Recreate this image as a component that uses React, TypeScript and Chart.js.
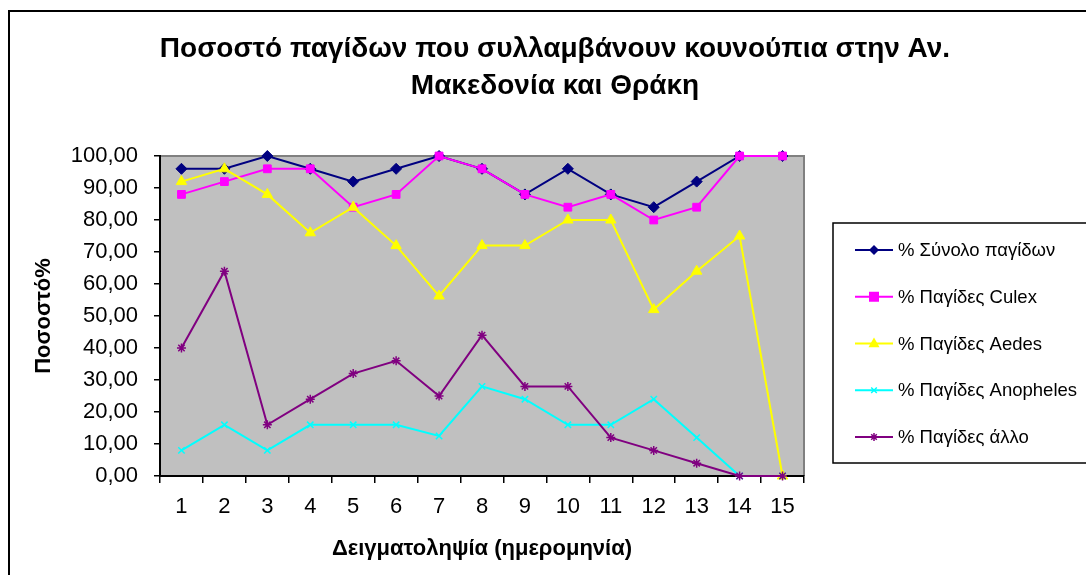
import React, { useEffect, useRef } from "react";
import { Chart, registerables } from "chart.js";

Chart.register(...registerables);

const categories = ["1", "2", "3", "4", "5", "6", "7", "8", "9", "10", "11", "12", "13", "14", "15"];
const totalTraps = [96, 96, 100, 96, 92, 96, 100, 96, 88, 96, 88, 84, 92, 100, 100];
const culexTraps = [88, 92, 96, 96, 84, 88, 100, 96, 88, 84, 88, 80, 84, 100, 100];
const aedesTraps = [92, 96, 88, 76, 84, 72, 56.25, 72, 72, 80, 80, 52, 64, 75, 0];
const anophelesTraps = [8, 16, 8, 16, 16, 16, 12.5, 28, 24, 16, 16, 24, 12, 0, 0];
const otherTraps = [40, 64, 16, 24, 32, 36, 25, 44, 28, 28, 12, 8, 4, 0, 0];

const seriesLabels = [
  "% Σύνολο παγίδων",
  "% Παγίδες Culex",
  "% Παγίδες Aedes",
  "% Παγίδες Anopheles",
  "% Παγίδες άλλο",
];
const seriesColors = ["#000080", "#FF00FF", "#FFFF00", "#00FFFF", "#800080"];
const titleLines = [
  "Ποσοστό παγίδων που συλλαμβάνουν κουνούπια στην Αν.",
  "Μακεδονία και Θράκη",
];
const xTitle = "Δειγματοληψία (ημερομηνία)";
const yTitle = "Ποσοστό%";

const FONT = '"Liberation Sans", Arial, sans-serif';

function drawMarker(ctx: CanvasRenderingContext2D, style: string, x: number, y: number, r: number, color: string) {
  ctx.save();
  ctx.fillStyle = color;
  ctx.strokeStyle = color;
  ctx.lineWidth = 1.5;
  ctx.beginPath();
  if (style === "rectRot") {
    ctx.moveTo(x, y - r);
    ctx.lineTo(x + r, y);
    ctx.lineTo(x, y + r);
    ctx.lineTo(x - r, y);
    ctx.closePath();
    ctx.fill();
  } else if (style === "rect") {
    ctx.rect(x - r, y - r, 2 * r, 2 * r);
    ctx.fill();
  } else if (style === "triangle") {
    ctx.moveTo(x, y - r * 1.1);
    ctx.lineTo(x + r, y + r * 0.7);
    ctx.lineTo(x - r, y + r * 0.7);
    ctx.closePath();
    ctx.fill();
  } else if (style === "crossRot") {
    ctx.moveTo(x - r * 0.7, y - r * 0.7);
    ctx.lineTo(x + r * 0.7, y + r * 0.7);
    ctx.moveTo(x + r * 0.7, y - r * 0.7);
    ctx.lineTo(x - r * 0.7, y + r * 0.7);
    ctx.stroke();
  } else {
    ctx.moveTo(x - r * 0.7, y - r * 0.7);
    ctx.lineTo(x + r * 0.7, y + r * 0.7);
    ctx.moveTo(x + r * 0.7, y - r * 0.7);
    ctx.lineTo(x - r * 0.7, y + r * 0.7);
    ctx.moveTo(x, y - r);
    ctx.lineTo(x, y + r);
    ctx.stroke();
  }
  ctx.restore();
}

const decor = {
  id: "decor",
  beforeDraw(chart: any) {
    const { ctx, chartArea: a, width, height } = chart;
    ctx.save();
    ctx.fillStyle = "#FFFFFF";
    ctx.fillRect(0, 0, width, height);
    ctx.fillStyle = "#C0C0C0";
    ctx.fillRect(a.left, a.top, a.right - a.left, a.bottom - a.top);
    ctx.strokeStyle = "#808080";
    ctx.lineWidth = 2;
    ctx.beginPath();
    ctx.moveTo(a.left, a.top);
    ctx.lineTo(a.right, a.top);
    ctx.lineTo(a.right, a.bottom);
    ctx.stroke();
    ctx.restore();
  },
  afterDraw(chart: any) {
    const { ctx, chartArea: a } = chart;
    ctx.save();
    // outer frame
    ctx.strokeStyle = "#000000";
    ctx.lineWidth = 2;
    ctx.strokeRect(9, 11, 1200, 700);

    // title
    ctx.fillStyle = "#000000";
    ctx.textAlign = "center";
    ctx.textBaseline = "middle";
    ctx.font = `bold 28px ${FONT}`;
    ctx.fillText(titleLines[0], 555, 49);
    ctx.fillText(titleLines[1], 555, 86);

    // axis titles
    ctx.font = `bold 22px ${FONT}`;
    ctx.fillText(xTitle, (a.left + a.right) / 2, 549);
    ctx.save();
    ctx.translate(44, (a.top + a.bottom) / 2);
    ctx.rotate(-Math.PI / 2);
    ctx.fillText(yTitle, 0, 0);
    ctx.restore();

    // legend
    ctx.lineWidth = 1.5;
    ctx.strokeStyle = "#000000";
    ctx.strokeRect(833, 223, 400, 240);
    ctx.textAlign = "left";
    ctx.font = `18.5px ${FONT}`;
    chart.data.datasets.forEach((ds: any, i: number) => {
      const y = 250 + i * 46.75;
      ctx.strokeStyle = ds.borderColor;
      ctx.lineWidth = 2;
      ctx.beginPath();
      ctx.moveTo(855, y);
      ctx.lineTo(893, y);
      ctx.stroke();
      drawMarker(ctx, ds.pointStyle, 874, y, Math.max(3.5, ds.pointRadius - 0.5), ds.borderColor);
      ctx.fillStyle = "#000000";
      ctx.fillText(ds.label, 898, y + 1);
    });
    ctx.restore();
  },
};

export default function App() {
  const ref = useRef<HTMLCanvasElement>(null);
  useEffect(() => {
    if (!ref.current) return;
    const series = [totalTraps, culexTraps, aedesTraps, anophelesTraps, otherTraps];
    const styles = ["rectRot", "rect", "triangle", "crossRot", "star"];
    const radii = [5.5, 5.5, 6, 4.5, 4.5];
    const chart = new Chart(ref.current, {
      type: "line",
      data: {
        labels: categories,
        datasets: series.map((d, i) => ({
          label: seriesLabels[i],
          data: d,
          borderColor: seriesColors[i],
          backgroundColor: seriesColors[i],
          pointBackgroundColor: seriesColors[i],
          pointBorderColor: seriesColors[i],
          pointStyle: styles[i] as any,
          pointRadius: radii[i],
          pointBorderWidth: i >= 3 ? 1.5 : 1,
          borderWidth: 2,
          tension: 0,
          fill: false,
          clip: false as any,
          order: 5 - i,
        })),
      },
      options: {
        animation: false,
        responsive: false,
        maintainAspectRatio: false,
        layout: { padding: { left: 0, top: 156, right: 282, bottom: 0 } },
        plugins: { legend: { display: false }, title: { display: false }, tooltip: { enabled: false } },
        scales: {
          x: {
            type: "category",
            offset: true,
            afterFit: (s: any) => { s.height = 99; },
            grid: { offset: true, drawOnChartArea: false, drawTicks: true, tickLength: 7, color: "#000000", lineWidth: 1.5 },
            border: { display: true, color: "#000000", width: 2 },
            ticks: { color: "#000000", font: { family: FONT, size: 22 }, padding: 11, maxRotation: 0, autoSkip: false },
          },
          y: {
            min: 0,
            max: 100,
            afterFit: (s: any) => { s.width = 160; },
            grid: { drawOnChartArea: false, drawTicks: true, tickLength: 6, color: "#000000", lineWidth: 1.5 },
            border: { display: true, color: "#000000", width: 2 },
            ticks: {
              stepSize: 10,
              color: "#000000",
              font: { family: FONT, size: 22 },
              padding: 16,
              callback: (v: any) => Number(v).toFixed(2).replace(".", ","),
            },
          },
        },
      },
      plugins: [decor],
    });
    return () => chart.destroy();
  }, []);
  return (
    <div style={{ position: "absolute", left: 0, top: 0, width: 1086, height: 575 }}>
      <canvas ref={ref} width={1086} height={575} style={{ width: 1086, height: 575, display: "block" }} />
    </div>
  );
}
